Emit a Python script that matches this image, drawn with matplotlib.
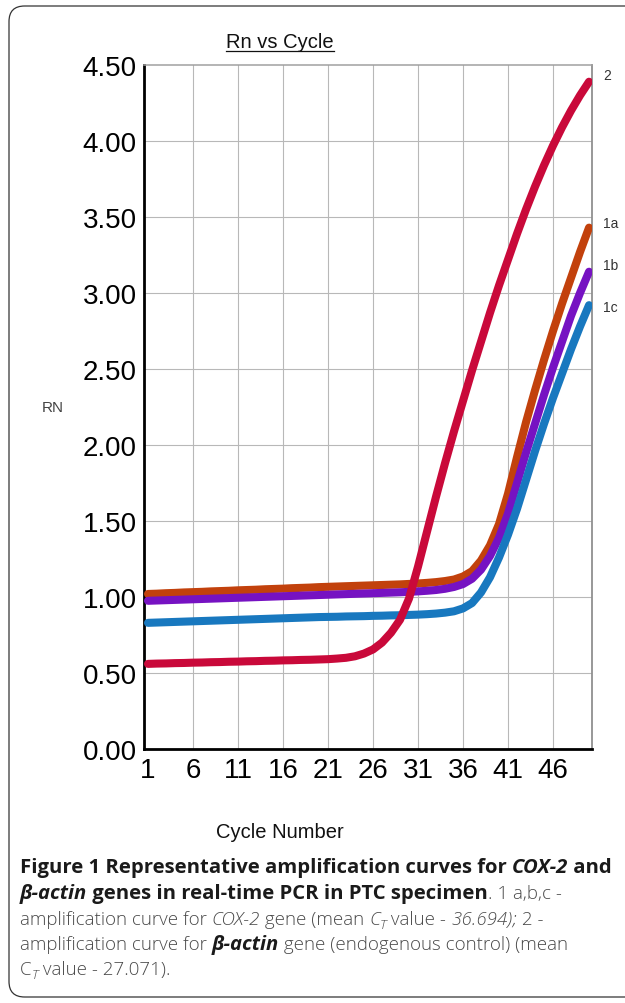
import numpy as np
import matplotlib
matplotlib.use('Agg')
import matplotlib.pyplot as plt
from matplotlib.patches import FancyBboxPatch
from matplotlib.lines import Line2D

# amplification data (Rn per cycle)
cycles = np.arange(1, 51)

rn_2 = [0.560, 0.562, 0.563, 0.565, 0.566, 0.568, 0.569, 0.571, 0.572, 0.574,
        0.575, 0.577, 0.578, 0.580, 0.581, 0.583, 0.584, 0.586, 0.587, 0.589,
        0.591, 0.595, 0.600, 0.610, 0.628, 0.655, 0.700, 0.765, 0.850, 0.990,
        1.200, 1.430, 1.660, 1.880, 2.090, 2.290, 2.490, 2.680, 2.870, 3.050,
        3.220, 3.390, 3.550, 3.700, 3.840, 3.970, 4.090, 4.200, 4.300, 4.390]

rn_1a = [1.020, 1.022, 1.025, 1.027, 1.030, 1.032, 1.034, 1.037, 1.039, 1.041,
         1.044, 1.046, 1.048, 1.051, 1.053, 1.055, 1.058, 1.060, 1.062, 1.065,
         1.067, 1.069, 1.071, 1.073, 1.075, 1.077, 1.079, 1.081, 1.083, 1.086,
         1.089, 1.093, 1.098, 1.105, 1.115, 1.135, 1.170, 1.240, 1.340, 1.480,
         1.680, 1.920, 2.150, 2.360, 2.560, 2.750, 2.930, 3.100, 3.270, 3.430]

rn_1b = [0.975, 0.977, 0.979, 0.981, 0.983, 0.985, 0.987, 0.989, 0.991, 0.993,
         0.995, 0.997, 0.999, 1.001, 1.003, 1.005, 1.007, 1.009, 1.011, 1.013,
         1.015, 1.017, 1.019, 1.021, 1.023, 1.025, 1.027, 1.029, 1.031, 1.034,
         1.037, 1.041, 1.046, 1.054, 1.066, 1.085, 1.120, 1.180, 1.270, 1.390,
         1.550, 1.750, 1.950, 2.140, 2.330, 2.510, 2.680, 2.850, 3.000, 3.140]

rn_1c = [0.830, 0.832, 0.834, 0.836, 0.838, 0.840, 0.842, 0.844, 0.846, 0.848,
         0.850, 0.852, 0.854, 0.856, 0.858, 0.860, 0.862, 0.864, 0.866, 0.868,
         0.869, 0.870, 0.872, 0.873, 0.874, 0.876, 0.877, 0.879, 0.880, 0.882,
         0.884, 0.887, 0.891, 0.897, 0.906, 0.925, 0.960, 1.030, 1.130, 1.260,
         1.410, 1.580, 1.770, 1.960, 2.140, 2.310, 2.470, 2.630, 2.780, 2.920]

curve_names = ['1a', '1b', '1c', '2']
curve_colors = ['#c2410c', '#7612c2', '#1878bf', '#c9093a']

x_ticks = [1, 6, 11, 16, 21, 26, 31, 36, 41, 46]
y_ticks = [0.0, 0.5, 1.0, 1.5, 2.0, 2.5, 3.0, 3.5, 4.0, 4.5]

W, H = 625, 1004
plt.rcParams['font.family'] = ['Liberation Sans', 'DejaVu Sans']


def fx(px):
    return px / W


def fy(py):
    return 1 - py / H


fig = plt.figure(figsize=(W / 100, H / 100), dpi=100)
renderer = fig.canvas.get_renderer()

# outer rounded frame of the figure panel
frame = FancyBboxPatch((fx(9), fy(998)), fx(660), fy(7) - fy(998),
                       boxstyle='round,pad=0,rounding_size=0.025',
                       transform=fig.transFigure, fill=False,
                       edgecolor='#333333', linewidth=0.9, mutation_aspect=0.62)
fig.patches.append(frame)

ax = fig.add_axes([fx(143.5), fy(750), fx(592) - fx(143.5), fy(66) - fy(750)])

series = [rn_1a, rn_1b, rn_1c, rn_2]
for name, vals, col in zip(curve_names, series, curve_colors):
    ax.plot(cycles, vals, color=col, linewidth=5.8, solid_capstyle='round',
            solid_joinstyle='round', zorder=3)

label_offsets = {'2': 4.5, '1a': 3.0, '1b': 4.5, '1c': -1.5}
for name, vals in zip(curve_names, series):
    ax.annotate(name, xy=(cycles[-1], vals[-1]), xytext=(10, label_offsets[name]),
                textcoords='offset points', fontsize=10, color='#333333',
                va='center', ha='left', annotation_clip=False)

ax.set_xlim(0.5, 50.33)
ax.set_ylim(0, 4.5)
ax.set_xticks(x_ticks)
ax.set_yticks(y_ticks)
ax.set_yticklabels(['%.2f' % v for v in y_ticks])
ax.tick_params(length=0, labelsize=20, colors='black')
ax.tick_params(axis='x', pad=6)
ax.tick_params(axis='y', pad=5)

for v in y_ticks[1:-1]:
    ax.axhline(v, color='#b8b8b8', linewidth=0.8, zorder=1)
for c in x_ticks[1:]:
    ax.axvline(c, color='#b8b8b8', linewidth=0.8, zorder=1)

ax.spines['left'].set_linewidth(2.0)
ax.spines['bottom'].set_linewidth(2.0)
ax.spines['top'].set_color('#a0a0a0')
ax.spines['right'].set_color('#909090')
ax.spines['top'].set_linewidth(1.1)
ax.spines['right'].set_linewidth(1.3)

# title with underline
title = fig.text(fx(280), fy(48), 'Rn vs Cycle', fontsize=14.5, ha='center',
                 va='baseline', color='#111111')
bb = title.get_window_extent(renderer)
fig.add_artist(Line2D([bb.x0 / W, bb.x1 / W], [fy(51.5), fy(51.5)],
                      transform=fig.transFigure, color='#111111', linewidth=0.9))

fig.text(fx(53), fy(408), 'RN', fontsize=11, ha='center', va='center', color='#444444')
fig.text(fx(280), fy(833), 'Cycle Number', fontsize=14.5, ha='center', va='center',
         color='#111111')

# caption, written run by run
cap = dict(family=['Open Sans', 'DejaVu Sans'])
BOLD = dict(weight='bold', color='#1a1a1a', fontsize=14.6)
BOLDIT = dict(weight='bold', style='italic', color='#1a1a1a', fontsize=14.6)
NORM = dict(weight='light', color='#4a4a4a', fontsize=13.5)
ITAL = dict(weight='light', style='italic', color='#4a4a4a', fontsize=13.5)
SUB = dict(weight='light', style='italic', color='#4a4a4a', fontsize=9.7)


def text_width(s, kw):
    t1 = fig.text(0, 0, '|' + s + '|', **kw)
    t2 = fig.text(0, 0, '||', **kw)
    w = t1.get_window_extent(renderer).width - t2.get_window_extent(renderer).width
    t1.remove()
    t2.remove()
    return w


def put_line(y, runs):
    x = 20
    for s, style in runs:
        kw = dict(cap)
        kw.update(style)
        shift = 4 if style is SUB else 0
        fig.text(fx(x), fy(y + shift), s, va='baseline', ha='left', **kw)
        x += text_width(s, kw)


put_line(873, [('Figure 1 Representative amplification curves for ', BOLD),
               ('COX-2', BOLDIT), (' and', BOLD)])
put_line(899, [('\u03b2-actin', BOLDIT), (' genes in real-time PCR in PTC specimen', BOLD),
               ('. 1 a,b,c -', NORM)])
put_line(925, [('amplification curve for ', NORM), ('COX-2', ITAL), (' gene (mean ', NORM),
               ('C', ITAL), ('T', SUB), (' value - ', NORM), ('36.694);', ITAL),
               (' 2 -', NORM)])
put_line(950, [('amplification curve for ', NORM), ('\u03b2-actin', BOLDIT),
               (' gene (endogenous control) (mean', NORM)])
put_line(975, [('C', NORM), ('T', SUB), (' value - 27.071).', NORM)])

fig.savefig('out.png', dpi=100)
